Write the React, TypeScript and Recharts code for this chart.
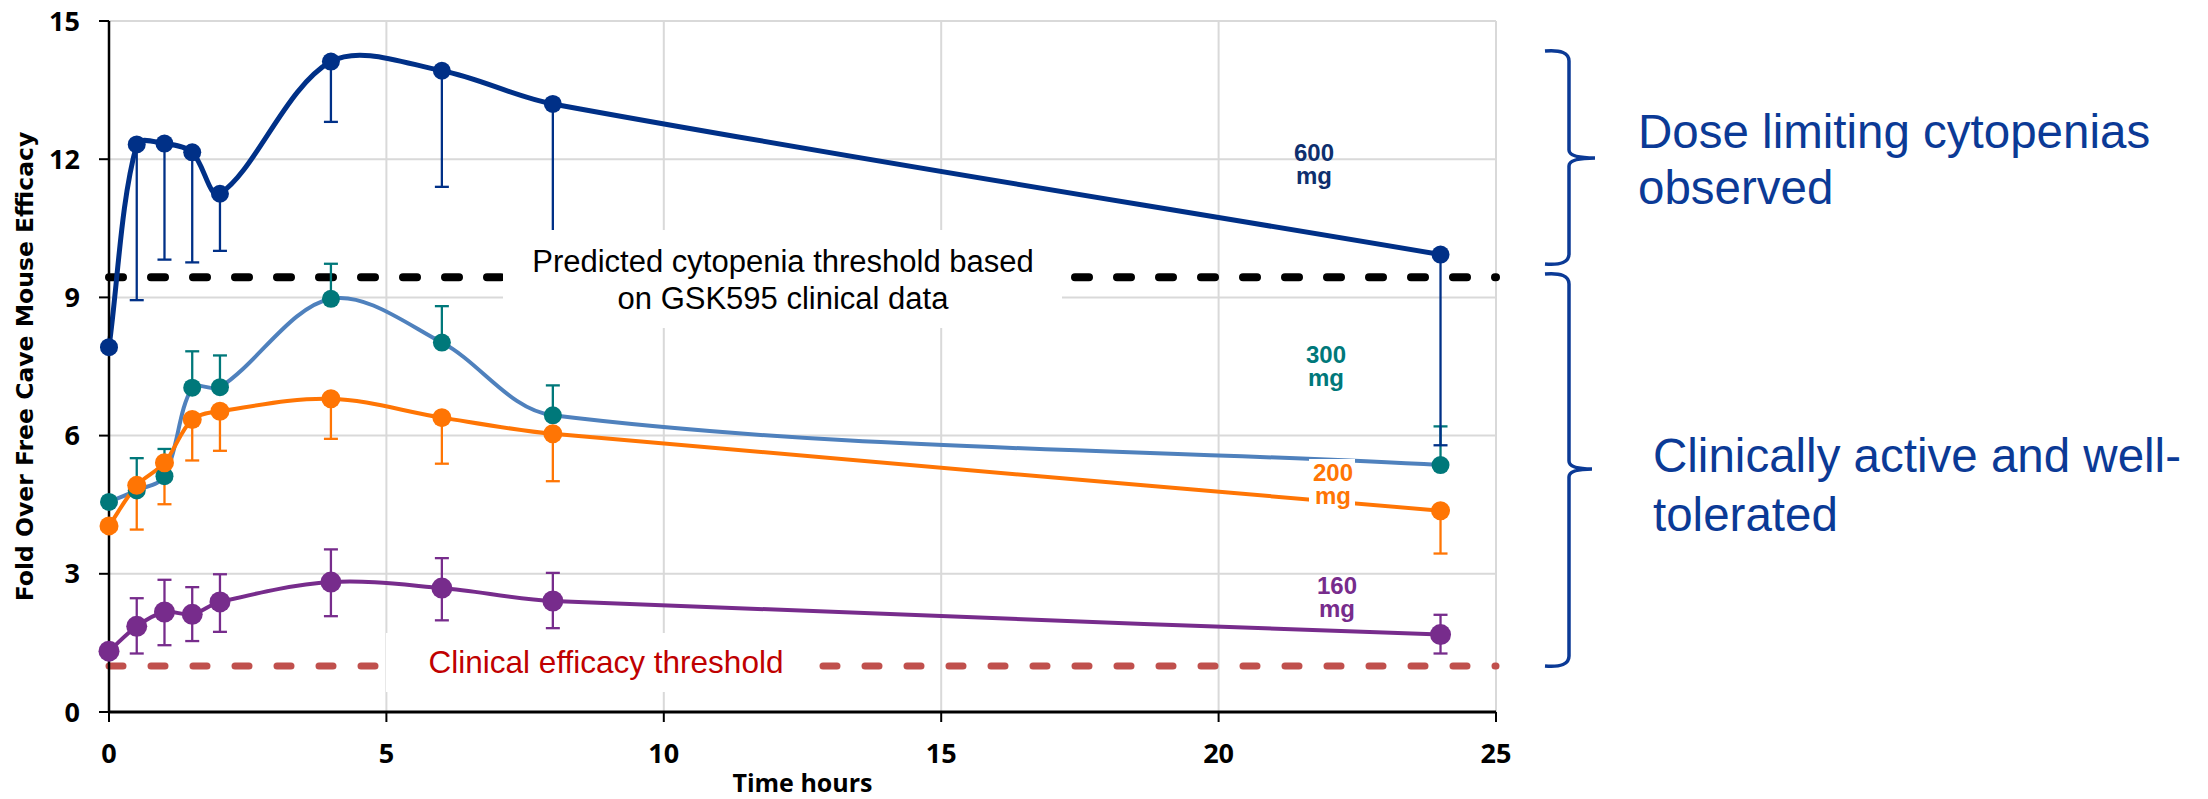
import React from 'react';
import {
  LineChart,
  Line,
  XAxis,
  YAxis,
  CartesianGrid,
  ReferenceLine,
  ErrorBar,
} from 'recharts';

// sampling times (hours)
const times = [0, 0.5, 1, 1.5, 2, 4, 6, 8, 24];

// fold over free Cave mouse efficacy, per dose
const dose600 = [7.92, 12.32, 12.34, 12.15, 11.25, 14.12, 13.92, 13.2, 9.93];
const dose300 = [4.56, 4.81, 5.12, 7.04, 7.05, 8.97, 8.02, 6.44, 5.36];
const dose200 = [4.04, 4.92, 5.41, 6.35, 6.53, 6.8, 6.39, 6.04, 4.37];
const dose160 = [1.32, 1.86, 2.17, 2.12, 2.39, 2.82, 2.69, 2.41, 1.68];

// error bar ends as drawn (600 / 200 only low, 300 only high, 160 both)
const low600 = [7.92, 8.94, 9.82, 9.76, 10.01, 12.81, 11.4, 9.3, 5.79];
const high300 = [4.56, 5.51, 5.71, 7.83, 7.74, 9.73, 8.81, 7.09, 6.2];
const low200 = [4.04, 3.96, 4.51, 5.46, 5.67, 5.93, 5.39, 5.01, 3.44];
const high160 = [1.32, 2.47, 2.87, 2.71, 2.99, 3.53, 3.34, 3.02, 2.11];
const low160 = [1.32, 1.27, 1.45, 1.54, 1.74, 2.08, 1.99, 1.82, 1.27];

const xTicks = [0, 5, 10, 15, 20, 25];
const yTicks = [0, 3, 6, 9, 12, 15];

const cytopeniaThreshold = 9.44;
const efficacyThreshold = 1.0;

const rows = times.map((t, i) => ({
  t,
  d600: dose600[i],
  d300: dose300[i],
  d200: dose200[i],
  d160: dose160[i],
  e600: [dose600[i] - low600[i], 0],
  e300: [0, high300[i] - dose300[i]],
  e200: [dose200[i] - low200[i], 0],
  e160: [dose160[i] - low160[i], high160[i] - dose160[i]],
}));

const NAVY = '#003087';
const TEAL = '#00787A';
const STEEL = '#4F81BD';
const ORANGE = '#FF7504';
const PURPLE = '#772C8C';
const NOTE = '#0B3A96';

// smoothed line roughly like a spreadsheet "smoothed line": bezier with
// catmull-rom tangents, handle lengths scaled to the neighbouring chords
const smooth = (context: any) => {
  let pts: number[][] = [];
  return {
    areaStart() {},
    areaEnd() {},
    lineStart() {
      pts = [];
    },
    point(x: number, y: number) {
      pts.push([+x, +y]);
    },
    lineEnd() {
      const n = pts.length;
      if (!n) return;
      context.moveTo(pts[0][0], pts[0][1]);
      const handles = (i: number) => {
        const p0 = pts[Math.max(i - 1, 0)];
        const p1 = pts[i];
        const p2 = pts[Math.min(i + 1, n - 1)];
        const tx = p2[0] - p0[0];
        const ty = p2[1] - p0[1];
        const d01 = Math.hypot(p1[0] - p0[0], p1[1] - p0[1]);
        const d12 = Math.hypot(p2[0] - p1[0], p2[1] - p1[1]);
        const s = 3 * (d01 + d12 || 1);
        return { ix: (tx * d01) / s, iy: (ty * d01) / s, ox: (tx * d12) / s, oy: (ty * d12) / s };
      };
      for (let i = 0; i < n - 1; i++) {
        const a = handles(i);
        const b = handles(i + 1);
        context.bezierCurveTo(
          pts[i][0] + a.ox,
          pts[i][1] + a.oy,
          pts[i + 1][0] - b.ix,
          pts[i + 1][1] - b.iy,
          pts[i + 1][0],
          pts[i + 1][1]
        );
      }
    },
  };
};

const tickFont = { fill: '#000', fontSize: 27, fontWeight: 700, fontFamily: '"Open Sans", sans-serif' };
const arial = '"Liberation Sans", Arial, sans-serif';

const brace = (top: number, bottom: number, tipY: number, tipX: number) => {
  const bar = 1569;
  const left = 1545;
  return `M ${left} ${top} Q ${bar} ${top - 2} ${bar} ${top + 10} L ${bar} ${tipY - 8} Q ${bar} ${tipY} ${tipX} ${tipY} Q ${bar} ${tipY} ${bar} ${tipY + 8} L ${bar} ${bottom - 10} Q ${bar} ${bottom + 2} ${left} ${bottom}`;
};

// two-line dose tag next to the 24 h points
const DoseTag = ({ x, y, color, dose }: { x: number; y: number; color: string; dose: string }) => (
  <text x={x} y={y} fill={color} fontFamily={arial} fontSize={24} fontWeight={700} textAnchor="middle">
    <tspan x={x}>{dose}</tspan>
    <tspan x={x} dy={23}>mg</tspan>
  </text>
);

export default function App() {
  return (
    <div style={{ position: 'relative', width: 2208, height: 799, marginTop: -8, marginLeft: -8 }}>
      <LineChart
        width={2208}
        height={799}
        data={rows}
        margin={{ top: 21, right: 712, bottom: 0, left: 49 }}
      >
        <CartesianGrid stroke="#D9D9D9" strokeWidth={2} />
        <XAxis
          type="number"
          dataKey="t"
          domain={[0, 25]}
          ticks={xTicks}
          interval={0}
          height={87}
          tickSize={10}
          tickMargin={22}
          axisLine={{ stroke: '#000', strokeWidth: 3 }}
          tickLine={{ stroke: '#000', strokeWidth: 2 }}
          tick={tickFont}
          label={{
            value: 'Time hours',
            position: 'insideBottom',
            offset: 7,
            fill: '#000',
            fontSize: 25,
            fontWeight: 700,
            fontFamily: '"Open Sans", sans-serif',
          }}
        />
        <YAxis
          type="number"
          domain={[0, 15]}
          ticks={yTicks}
          interval={0}
          width={60}
          tickSize={10}
          tickMargin={19}
          axisLine={{ stroke: '#000', strokeWidth: 2.5 }}
          tickLine={{ stroke: '#000', strokeWidth: 2 }}
          tick={tickFont}
          label={{
            value: 'Fold Over Free Cave Mouse Efficacy',
            angle: -90,
            position: 'insideLeft',
            offset: -24,
            fill: '#000',
            fontSize: 23.5,
            fontWeight: 700,
            fontFamily: '"DejaVu Sans", Verdana, sans-serif',
            style: { textAnchor: 'middle' },
          }}
        />
        <ReferenceLine
          y={cytopeniaThreshold}
          stroke="#000"
          strokeWidth={8}
          strokeDasharray="14 28"
          strokeLinecap="round"
        />
        <ReferenceLine
          y={efficacyThreshold}
          stroke="#C0504D"
          strokeWidth={7}
          strokeDasharray="14 28"
          strokeLinecap="round"
        />
        <Line
          dataKey="d300"
          type={smooth as any}
          stroke={STEEL}
          strokeWidth={4}
          dot={{ r: 9, fill: TEAL, stroke: TEAL, strokeWidth: 0 }}
          activeDot={false}
          isAnimationActive={false}
        >
          <ErrorBar dataKey="e300" direction="y" width={7} stroke={TEAL} strokeWidth={2.3} />
        </Line>
        <Line
          dataKey="d200"
          type={smooth as any}
          stroke={ORANGE}
          strokeWidth={4}
          dot={{ r: 9.5, fill: ORANGE, stroke: ORANGE, strokeWidth: 0 }}
          activeDot={false}
          isAnimationActive={false}
        >
          <ErrorBar dataKey="e200" direction="y" width={7} stroke={ORANGE} strokeWidth={2.3} />
        </Line>
        <Line
          dataKey="d160"
          type={smooth as any}
          stroke={PURPLE}
          strokeWidth={4}
          dot={{ r: 10.5, fill: PURPLE, stroke: PURPLE, strokeWidth: 0 }}
          activeDot={false}
          isAnimationActive={false}
        >
          <ErrorBar dataKey="e160" direction="y" width={7} stroke={PURPLE} strokeWidth={2.3} />
        </Line>
        <Line
          dataKey="d600"
          type={smooth as any}
          stroke={NAVY}
          strokeWidth={5}
          dot={{ r: 9, fill: NAVY, stroke: NAVY, strokeWidth: 0 }}
          activeDot={false}
          isAnimationActive={false}
        >
          <ErrorBar dataKey="e600" direction="y" width={7} stroke={NAVY} strokeWidth={2.3} />
        </Line>
      </LineChart>

      <svg
        width={2208}
        height={799}
        style={{ position: 'absolute', left: 0, top: 0, pointerEvents: 'none' }}
      >
        <rect x={503} y={230} width={559} height={98} fill="#fff" />
        <text x={783} y={272} fontFamily={arial} fontSize={31} fill="#000" textAnchor="middle">
          <tspan x={783}>Predicted cytopenia threshold based</tspan>
          <tspan x={783} dy={37}>on GSK595 clinical data</tspan>
        </text>

        <rect x={386} y={633} width={421} height={59} fill="#fff" />
        <text x={606} y={673} fontFamily={arial} fontSize={31.5} fill="#C00000" textAnchor="middle">
          Clinical efficacy threshold
        </text>

        <DoseTag x={1314} y={161} color="#0E2F6E" dose="600" />
        <DoseTag x={1326} y={363} color={TEAL} dose="300" />
        <rect x={1309} y={459} width={46} height={49} fill="#fff" />
        <DoseTag x={1333} y={481} color={ORANGE} dose="200" />
        <rect x={1314} y={577} width={44} height={50} fill="#fff" />
        <DoseTag x={1337} y={594} color={PURPLE} dose="160" />

        <g fill="none" stroke={NOTE} strokeWidth={3.5}>
          <path d={brace(51, 264, 158, 1595)} />
          <path d={brace(274, 666, 469, 1592)} />
        </g>

        <g fontFamily={arial} fontSize={47.5} fill={NOTE}>
          <text x={1638} y={148}>
            <tspan x={1638}>Dose limiting cytopenias</tspan>
            <tspan x={1638} dy={56}>observed</tspan>
          </text>
          <text x={1653} y={472}>
            <tspan x={1653}>Clinically active and well-</tspan>
            <tspan x={1653} dy={59}>tolerated</tspan>
          </text>
        </g>
      </svg>
    </div>
  );
}
